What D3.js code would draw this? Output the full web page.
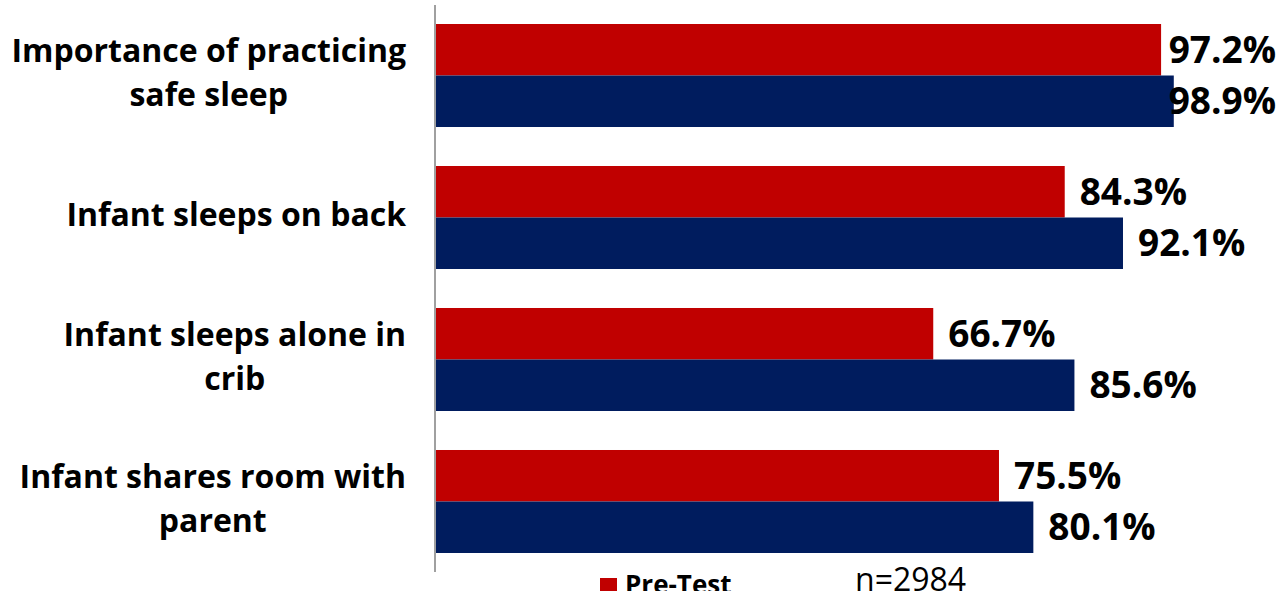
<!DOCTYPE html>
<html>
<head>
<meta charset="utf-8">
<script src="https://cdn.jsdelivr.net/npm/d3@7"></script>
<style>
  body { margin: 0; background: #fff; }
  svg text { font-family: "Open Sans", sans-serif; }
</style>
</head>
<body>
<script>
// chart data
const categories = [
    ['Importance of practicing', 'safe sleep'],
    ['Infant sleeps on back'],
    ['Infant sleeps alone in', 'crib'],
    ['Infant shares room with', 'parent']
]
const seriesNames = ['Pre-Test', 'Post-Test']
const preTest = [97.2, 84.3, 66.7, 75.5]
const postTest = [98.9, 92.1, 85.6, 80.1]
const colors = ['#C00000', '#001C5E']

// measurements
const m = { width: 1283, height: 591, left: 435, top: 5, plotBottom: 572, labelRight: 406, textRight: 1276 }

const svg = d3.select('body').append('svg')
    .attr('width', m.width)
    .attr('height', m.height)

const xScale = d3.scaleLinear()
    .domain([0, 100])
    .range([m.left, m.left + 747])

const yScale = d3.scaleBand()
    .domain(d3.range(categories.length))
    .range([24, 553])
    .paddingInner(0.2746)
    .paddingOuter(0)

const inner = d3.scaleBand()
    .domain([0, 1])
    .range([0, yScale.bandwidth()])

const rows = categories.map((c, i) => ({ i, label: c, values: [preTest[i], postTest[i]] }))

const group = svg.selectAll('g.grp')
    .data(rows)
    .join('g')
    .attr('class', 'grp')
    .attr('transform', d => `translate(0,${yScale(d.i)})`)

group.selectAll('rect')
    .data(d => d.values.map((v, s) => ({ v, s })))
    .join('rect')
    .attr('x', xScale(0))
    .attr('y', d => inner(d.s))
    .attr('width', d => xScale(d.v) - xScale(0))
    .attr('height', inner.bandwidth())
    .attr('fill', d => colors[d.s])

// value labels, pulled back inside the frame when they would run off it
group.selectAll('text.val')
    .data(d => d.values.map((v, s) => ({ v, s })))
    .join('text')
    .attr('class', 'val')
    .attr('y', d => inner(d.s) + inner.bandwidth() / 2 + 3)
    .attr('dominant-baseline', 'middle')
    .attr('font-size', 37)
    .attr('font-weight', 'bold')
    .attr('fill', '#000')
    .text(d => d.v.toFixed(1) + '%')
    .attr('x', function (d) {
        const w = this.getComputedTextLength()
        return Math.min(xScale(d.v) + 15, m.textRight - w)
    })

// category labels
const lineH = 44
group.append('text')
    .attr('class', 'cat')
    .attr('text-anchor', 'end')
    .attr('font-size', 32)
    .attr('font-weight', 'bold')
    .attr('fill', '#000')
    .selectAll('tspan')
    .data(d => d.label.map((t, k) => ({ t, k, n: d.label.length })))
    .join('tspan')
    .attr('x', m.labelRight)
    .attr('y', d => yScale.bandwidth() / 2 + (d.k - (d.n - 1) / 2) * lineH)
    .attr('dominant-baseline', 'middle')
    .text(d => d.t)

// second lines are centred under the first line
group.selectAll('text.cat').each(function () {
    const tspans = d3.select(this).selectAll('tspan').nodes()
    if (tspans.length > 1) {
        const w0 = tspans[0].getComputedTextLength()
        const w1 = tspans[1].getComputedTextLength()
        d3.select(tspans[1]).attr('x', m.labelRight - (w0 - w1) / 2)
    }
})

// axis line
svg.append('line')
    .attr('x1', xScale(0)).attr('x2', xScale(0))
    .attr('y1', m.top).attr('y2', m.plotBottom)
    .attr('stroke', '#A0A0A0')
    .attr('stroke-width', 2)

// legend (cut off at the bottom)
const legend = svg.append('g').attr('transform', 'translate(600,578)')
legend.append('rect')
    .attr('width', 17).attr('height', 17)
    .attr('fill', colors[0])
legend.append('text')
    .attr('x', 25).attr('y', 16)
    .attr('font-size', 26)
    .attr('font-weight', 'bold')
    .text(seriesNames[0])

svg.append('text')
    .attr('x', 855).attr('y', 591)
    .attr('font-size', 32)
    .attr('fill', '#000')
    .text('n=2984')
</script>
</body>
</html>
